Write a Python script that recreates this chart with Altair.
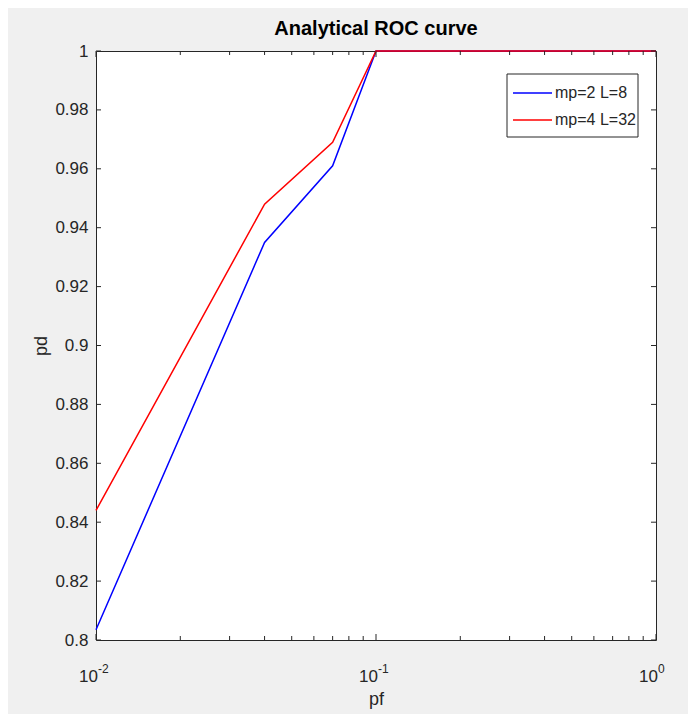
import altair as alt
import pandas as pd

# ---- data ----
pf = [0.01, 0.04, 0.07, 0.1, 1.0]
pd_mp2 = [0.8035, 0.935, 0.961, 1.0, 1.0]
pd_mp4 = [0.844, 0.948, 0.969, 1.0, 1.0]
series_names = ["mp=2 L=8", "mp=4 L=32"]
series_colors = ["#0000ff", "#ff0000"]

y_ticks = [0.8, 0.82, 0.84, 0.86, 0.88, 0.9, 0.92, 0.94, 0.96, 0.98, 1.0]
x_major = [0.01, 0.1, 1.0]
x_exp = ["-2", "-1", "0"]
x_minor = [0.02, 0.03, 0.04, 0.05, 0.06, 0.07, 0.08, 0.09,
           0.2, 0.3, 0.4, 0.5, 0.6, 0.7, 0.8, 0.9]

W, H = 560, 589
FONT = "Liberation Sans, Arial, Helvetica"
TXT = "#262626"

df1 = pd.DataFrame({"pf": pf, "pd": pd_mp2, "s": series_names[0]})
df2 = pd.DataFrame({"pf": pf, "pd": pd_mp4, "s": series_names[1]})
dfy = pd.DataFrame({"v": y_ticks})
dfxM = pd.DataFrame({"v": x_major, "e": x_exp, "b": ["10"] * len(x_major)})
dfxm = pd.DataFrame({"v": x_minor})

xs = alt.Scale(type="log", domain=[0.01, 1], nice=False)
ys = alt.Scale(domain=[0.8, 1.0], nice=False, zero=False)

xaxis = alt.Axis(labels=False, ticks=False, domain=False, grid=False,
                 title="pf", titleFont=FONT, titleFontSize=18,
                 titleFontWeight="normal", titleColor=TXT,
                 titleY=64, titleBaseline="alphabetic")
yaxis = alt.Axis(values=y_ticks, format=".2~f", ticks=False, domain=False,
                 grid=False, labelPadding=8, labelFont=FONT, labelFontSize=17,
                 labelColor=TXT, title="pd", titleFont=FONT, titleFontSize=18,
                 titleFontWeight="normal", titleColor=TXT, titleAngle=270,
                 titleX=-50, titleY=H / 2, titleBaseline="alphabetic")

X = lambda f: alt.X(f, scale=xs, axis=xaxis)
Y = lambda f: alt.Y(f, scale=ys, axis=yaxis)

line1 = alt.Chart(df1).mark_line(strokeWidth=1.5, color=series_colors[0]).encode(
    x=X("pf:Q"), y=Y("pd:Q"))
line2 = alt.Chart(df2).mark_line(strokeWidth=1.5, color=series_colors[1]).encode(
    x=X("pf:Q"), y=Y("pd:Q"))

def yt(x0, x1):
    return alt.Chart(dfy).mark_rule(color=TXT, strokeWidth=1).encode(
        y=Y("v:Q"), x=alt.value(x0), x2=alt.value(x1))

def xt(df, y0, y1):
    return alt.Chart(df).mark_rule(color=TXT, strokeWidth=1).encode(
        x=X("v:Q"), y=alt.value(y0), y2=alt.value(y1))

ticks = [yt(0, 5), yt(W - 5, W),
         xt(dfxM, H, H - 6), xt(dfxM, 0, 6),
         xt(dfxm, H, H - 4), xt(dfxm, 0, 4)]

lab_base = alt.Chart(dfxM).mark_text(
    font=FONT, fontSize=17, color=TXT, align="right", baseline="alphabetic", dx=2
).encode(x=X("v:Q"), y=alt.value(H + 42), text="b:N")
lab_exp = alt.Chart(dfxM).mark_text(
    font=FONT, fontSize=12, color=TXT, align="left", baseline="alphabetic", dx=2
).encode(x=X("v:Q"), y=alt.value(H + 33), text="e:N")

# ---- legend box (drawn manually, MATLAB style) ----
LX0, LX1, LY0, LY1 = 411, 542, 23, 86
leg_box = alt.Chart(pd.DataFrame({"a": [0]})).mark_rect(
    fill="white", stroke=TXT, strokeWidth=1
).encode(x=alt.value(LX0), x2=alt.value(LX1), y=alt.value(LY0), y2=alt.value(LY1))
leg_items = []
for i, (name, col) in enumerate(zip(series_names, series_colors)):
    yy = 42 + 27 * i
    leg_items.append(alt.Chart(pd.DataFrame({"a": [0]})).mark_rule(
        color=col, strokeWidth=1.5).encode(
        x=alt.value(LX0 + 6), x2=alt.value(LX0 + 45), y=alt.value(yy)))
    leg_items.append(alt.Chart(pd.DataFrame({"a": [0]})).mark_text(
        text=name, font=FONT, fontSize=16, color=TXT, align="left",
        baseline="middle").encode(x=alt.value(LX0 + 48), y=alt.value(yy)))

chart = alt.layer(line1, line2, *ticks, lab_base, lab_exp, leg_box, *leg_items).properties(
    width=W, height=H,
    title=alt.TitleParams("Analytical ROC curve", font=FONT,
                          fontSize=20, fontWeight="bold", color="#000000",
                          anchor="middle", offset=3),
    background="#f0f0f0",
    padding={"left": 88, "top": 43, "right": 32, "bottom": 74},
    autosize=alt.AutoSizeParams(type="none"),
).configure_view(stroke=TXT, strokeWidth=1, fill="white")

chart.save("out.html", embed_options={"renderer": "svg", "actions": False})
